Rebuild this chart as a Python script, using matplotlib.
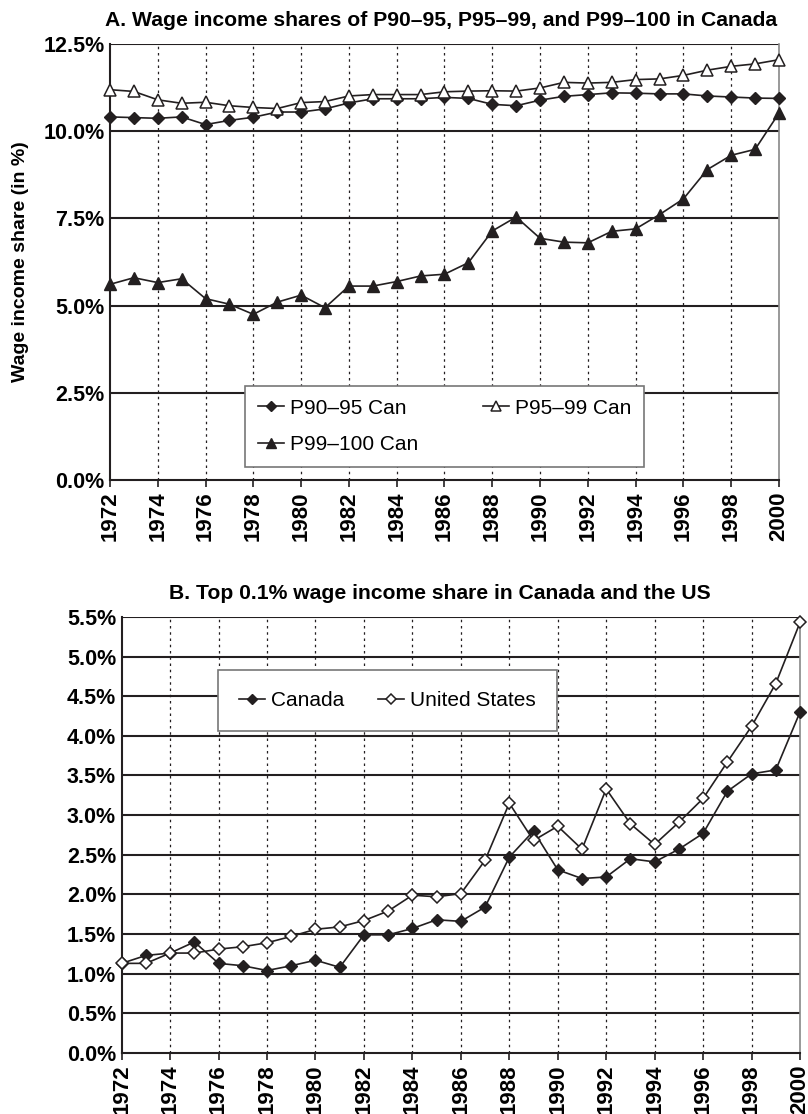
import numpy as np
import matplotlib
matplotlib.use('Agg')
import matplotlib.pyplot as plt
from matplotlib.ticker import FuncFormatter

plt.rcParams['font.family'] = ['Liberation Sans', 'DejaVu Sans']

years = list(range(1972, 2001))

# panel A: wage income shares, Canada (%)
p90_95 = [10.41, 10.39, 10.37, 10.41, 10.19, 10.31, 10.40, 10.55, 10.55, 10.64,
          10.81, 10.93, 10.93, 10.93, 10.97, 10.94, 10.77, 10.73, 10.89, 11.00,
          11.05, 11.10, 11.09, 11.07, 11.07, 11.01, 10.98, 10.95, 10.94]
p95_99 = [11.19, 11.14, 10.90, 10.80, 10.83, 10.73, 10.68, 10.65, 10.82, 10.85,
          11.01, 11.05, 11.05, 11.05, 11.13, 11.15, 11.16, 11.15, 11.24, 11.40,
          11.38, 11.40, 11.48, 11.50, 11.60, 11.75, 11.86, 11.93, 12.05]
p99_100 = [5.61, 5.80, 5.66, 5.77, 5.20, 5.04, 4.75, 5.10, 5.30, 4.94,
           5.56, 5.56, 5.69, 5.85, 5.90, 6.23, 7.14, 7.54, 6.93, 6.82,
           6.80, 7.13, 7.20, 7.61, 8.06, 8.90, 9.31, 9.48, 10.52]

# panel B: top 0.1% wage income share (%)
canada = [1.13, 1.23, 1.26, 1.40, 1.13, 1.10, 1.04, 1.10, 1.17, 1.08,
          1.49, 1.49, 1.57, 1.68, 1.66, 1.84, 2.47, 2.80, 2.31, 2.20,
          2.22, 2.45, 2.41, 2.57, 2.77, 3.30, 3.52, 3.57, 4.30]
usa = [1.13, 1.13, 1.26, 1.26, 1.31, 1.34, 1.39, 1.47, 1.56, 1.59,
       1.67, 1.79, 1.99, 1.97, 2.01, 2.43, 3.15, 2.68, 2.86, 2.57,
       3.33, 2.89, 2.63, 2.91, 3.21, 3.67, 4.12, 4.66, 5.43]

ink = '#231f20'
pct = FuncFormatter(lambda v, p: '%.1f%%' % v)


def style_axes(ax, yticks):
    ax.set_xlim(1972, 2000)
    ax.set_ylim(yticks[0], yticks[-1])
    ax.set_yticks(yticks)
    ax.yaxis.set_major_formatter(pct)
    ax.set_xticks(years[::2])
    ax.set_xticklabels([str(y) for y in years[::2]], rotation=90,
                       fontweight='bold', fontsize=16)
    for lab in ax.get_yticklabels():
        lab.set_fontweight('bold')
        lab.set_fontsize(15.5)
    ax.tick_params(axis='y', length=0, pad=4)
    ax.tick_params(axis='x', length=5, width=1.2, color=ink, pad=3)
    for y in yticks[1:]:
        ax.axhline(y, color=ink, lw=1.5, zorder=1)
    for x in years[2:-1:2]:
        ax.axvline(x, color=ink, lw=0.9, ls=(0, (2, 3)), zorder=1)
    for s in ['left', 'bottom']:
        ax.spines[s].set_color(ink)
        ax.spines[s].set_linewidth(1.5)
    ax.spines['top'].set_visible(False)
    ax.spines['right'].set_color('#888888')
    ax.spines['right'].set_linewidth(1.2)


fig = plt.figure(figsize=(8.08, 11.14), dpi=100)

axA = fig.add_axes([0.1361, 0.5691, 0.828, 0.3914])
style_axes(axA, [0, 2.5, 5, 7.5, 10, 12.5])
la, = axA.plot(years, p90_95, color=ink, lw=1.2, marker='D', ms=6.5,
               mfc=ink, mec=ink, label='P90–95 Can', zorder=3, clip_on=False)
lb, = axA.plot(years, p95_99, color=ink, lw=1.2, marker='^', ms=9,
               mfc='white', mec=ink, mew=1.1, label='P95–99 Can', zorder=3, clip_on=False)
lc, = axA.plot(years, p99_100, color=ink, lw=1.2, marker='^', ms=9,
               mfc=ink, mec=ink, label='P99–100 Can', zorder=3, clip_on=False)
axA.set_title('A. Wage income shares of P90–95, P95–99, and P99–100 in Canada',
              fontweight='bold', fontsize=15.2, pad=13, x=0.495)
axA.set_ylabel('Wage income share (in %)', fontweight='bold', fontsize=14, labelpad=10)
# column-major fill: put P99-100 under P90-95
legA = axA.legend([la, lc, lb], ['P90–95 Can', 'P99–100 Can', 'P95–99 Can'],
                  loc='lower left', bbox_to_anchor=(0.202, 0.030, 0.596, 0.183),
                  mode='expand', ncol=2, fontsize=15, frameon=True, fancybox=False,
                  edgecolor='#777777', framealpha=1, handlelength=1.25,
                  handletextpad=0.3, borderpad=0.6, labelspacing=0.85,
                  borderaxespad=0, markerscale=0.75)
legA.get_frame().set_linewidth(1.2)
legA.set_zorder(5)

axB = fig.add_axes([0.1506, 0.0548, 0.8395, 0.3914])
style_axes(axB, [0, 0.5, 1, 1.5, 2, 2.5, 3, 3.5, 4, 4.5, 5, 5.5])
axB.plot(years, canada, color=ink, lw=1.2, marker='D', ms=6.5,
         mfc=ink, mec=ink, label='Canada', zorder=3, clip_on=False)
axB.plot(years, usa, color=ink, lw=1.2, marker='D', ms=6.5,
         mfc='white', mec=ink, mew=1.1, label='United States', zorder=3, clip_on=False)
axB.set_title('B. Top 0.1% wage income share in Canada and the US',
              fontweight='bold', fontsize=15.2, pad=13, x=0.469)
legB = axB.legend(loc='upper left', bbox_to_anchor=(0.142, 0.878),
                  ncol=2, fontsize=15, frameon=True, fancybox=False,
                  edgecolor='#777777', framealpha=1, handlelength=1.25,
                  handletextpad=0.3, borderpad=1.0, columnspacing=1.6,
                  borderaxespad=0, markerscale=0.75)
legB.get_frame().set_linewidth(1.2)
legB.set_zorder(5)

fig.savefig('out.png', dpi=100, facecolor='white')
